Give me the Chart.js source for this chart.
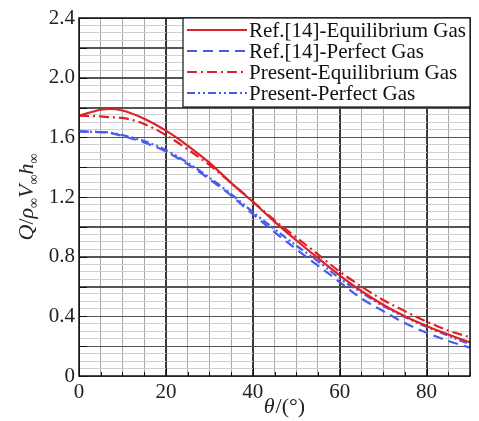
<!DOCTYPE html>
<html>
<head>
<meta charset="utf-8">
<script src="https://cdn.jsdelivr.net/npm/chart.js@4"></script>
<style>
  body { margin: 0; background: #fff; }
</style>
</head>
<body>
<canvas id="heat" width="479" height="421"></canvas>
<script>
// values
var theta = [0, 5, 7, 10, 15, 20, 25, 30, 35, 40, 45, 50, 55, 60, 65, 70, 75, 80, 85, 90];
var refEquilibrium = [1.745, 1.785, 1.79, 1.78, 1.725, 1.645, 1.545, 1.43, 1.295, 1.168, 1.035, 0.91, 0.79, 0.675, 0.57, 0.478, 0.40, 0.335, 0.278, 0.225];
var refPerfect = [1.64, 1.635, 1.63, 1.61, 1.565, 1.505, 1.42, 1.32, 1.21, 1.085, 0.965, 0.85, 0.74, 0.63, 0.52, 0.435, 0.355, 0.29, 0.235, 0.19];
var presentEquilibrium = [1.745, 1.74, 1.735, 1.73, 1.69, 1.615, 1.52, 1.415, 1.295, 1.17, 1.045, 0.93, 0.815, 0.70, 0.60, 0.51, 0.435, 0.365, 0.305, 0.26];
var presentPerfect = [1.64, 1.635, 1.632, 1.615, 1.575, 1.515, 1.43, 1.33, 1.22, 1.10, 0.985, 0.875, 0.77, 0.655, 0.56, 0.47, 0.395, 0.33, 0.27, 0.212];

var seriesNames = ["Ref.[14]-Equilibrium Gas", "Ref.[14]-Perfect Gas", "Present-Equilibrium Gas", "Present-Perfect Gas"];
var yTickLabels = ["0", "0.4", "0.8", "1.2", "1.6", "2.0", "2.4"];
var xTickLabels = ["0", "20", "40", "60", "80"];

var RED = "rgb(222,32,40)";
var BLUE = "rgb(72,92,235)";
var SERIF = "'Liberation Serif', 'Times New Roman', serif";

function pts(vals) {
    return theta.map((t, i) => ({ x: t, y: vals[i] }));
}

function isMult(v, step) {
    return Math.abs(v / step - Math.round(v / step)) < 1e-6;
}

// frame, inward ticks, axis titles and the boxed legend
var decorations = {
    id: "decorations",
    beforeDatasetsDraw: function (chart) {
        // put the major grid lines back on top of the minor ones
        var ctx = chart.ctx;
        var a = chart.chartArea;
        var xs = chart.scales.x, ys = chart.scales.y;
        ctx.save();
        ctx.lineWidth = 1;
        ctx.strokeStyle = "#555";
        for (var v = 0; v <= 2.4001; v += 0.2) {
            var py = Math.round(ys.getPixelForValue(v)) + 0.5;
            ctx.beginPath();
            ctx.moveTo(a.left, py);
            ctx.lineTo(a.right, py);
            ctx.stroke();
        }
        ctx.strokeStyle = "#3a3a3a";
        for (var t = 0; t <= 90; t += 20) {
            var px = Math.round(xs.getPixelForValue(t)) + 0.5;
            ctx.beginPath();
            ctx.moveTo(px, a.top);
            ctx.lineTo(px, a.bottom);
            ctx.stroke();
        }
        ctx.restore();
    },
    afterDraw: function (chart) {
        var ctx = chart.ctx;
        var a = chart.chartArea;
        var xs = chart.scales.x, ys = chart.scales.y;

        ctx.save();
        ctx.strokeStyle = "#111";
        ctx.lineWidth = 1;
        for (var v = 0; v <= 2.4001; v += 0.2) {
            var py = Math.round(ys.getPixelForValue(v)) + 0.5;
            ctx.beginPath();
            ctx.moveTo(a.left, py);
            ctx.lineTo(a.left + 8, py);
            ctx.stroke();
        }
        for (var t = 0; t <= 90; t += 5) {
            var px = Math.round(xs.getPixelForValue(t)) + 0.5;
            ctx.beginPath();
            ctx.moveTo(px, a.bottom);
            ctx.lineTo(px, a.bottom - (t % 20 === 0 ? 8 : 4));
            ctx.stroke();
        }
        ctx.lineWidth = 1.5;
        ctx.strokeRect(a.left, a.top, a.right - a.left, a.bottom - a.top);

        // legend box
        var lx = 183, ly = a.top, lw = a.right - lx, lh = 89;
        ctx.fillStyle = "#fff";
        ctx.fillRect(lx, ly, lw, lh);
        ctx.lineWidth = 1.2;
        ctx.strokeRect(lx, ly, lw, lh);
        ctx.font = "21px " + SERIF;
        ctx.textBaseline = "middle";
        chart.data.datasets.forEach(function (ds, i) {
            var yy = ly + 12 + i * 21;
            ctx.strokeStyle = ds.borderColor;
            ctx.lineWidth = ds.borderWidth;
            ctx.setLineDash(ds.borderDash || []);
            ctx.beginPath();
            ctx.moveTo(lx + 4, yy);
            ctx.lineTo(lx + 64, yy);
            ctx.stroke();
            ctx.setLineDash([]);
            ctx.fillStyle = "#111";
            ctx.fillText(ds.label, lx + 66, yy + 1);
        });

        // x title: θ/(°)
        ctx.fillStyle = "#222";
        ctx.textBaseline = "alphabetic";
        var italic = "italic 22px " + SERIF, upright = "22px " + SERIF;
        ctx.font = italic;
        var w1 = ctx.measureText("θ").width;
        ctx.font = upright;
        var w2 = ctx.measureText("/(°)").width;
        var x0 = 284 - (w1 + w2) / 2;
        ctx.font = italic;
        ctx.fillText("θ", x0, 413);
        ctx.font = upright;
        ctx.fillText("/(°)", x0 + w1 + 1, 413);

        // y title: Q/ρ∞V∞h∞
        var parts = [
            ["Q", italic, 0], ["/", upright, 0], ["ρ", italic, 0], ["∞", "14px " + SERIF, 5],
            ["V", italic, 0], ["∞", "14px " + SERIF, 5], ["h", italic, 0], ["∞", "14px " + SERIF, 5]
        ];
        var total = 0;
        parts.forEach(function (p) { ctx.font = p[1]; p.push(ctx.measureText(p[0]).width); total += p[3]; });
        ctx.translate(27, (a.top + a.bottom) / 2);
        ctx.rotate(-Math.PI / 2);
        var cx = -total / 2;
        parts.forEach(function (p) {
            ctx.font = p[1];
            ctx.fillText(p[0], cx, 6 + p[2]);
            cx += p[3];
        });
        ctx.restore();
    }
};

var heat = document.getElementById("heat").getContext("2d");
var heatChart = new Chart(heat, {
    type: "line",
    data: {
        datasets: [
            { label: seriesNames[0], data: pts(refEquilibrium), borderColor: RED, borderWidth: 2.2, borderDash: [] },
            { label: seriesNames[1], data: pts(refPerfect), borderColor: BLUE, borderWidth: 2.2, borderDash: [10, 6] },
            { label: seriesNames[2], data: pts(presentEquilibrium), borderColor: RED, borderWidth: 2.2, borderDash: [10, 4, 2, 4] },
            { label: seriesNames[3], data: pts(presentPerfect), borderColor: BLUE, borderWidth: 2.2, borderDash: [8, 3, 2, 3, 2, 3] }
        ]
    },
    options: {
        responsive: false,
        animation: false,
        layout: { padding: { top: 18, right: 9, left: 0, bottom: 0 } },
        elements: {
            point: { radius: 0 },
            line: { cubicInterpolationMode: "monotone", fill: false }
        },
        plugins: {
            legend: { display: false },
            tooltip: { enabled: false }
        },
        scales: {
            x: {
                type: "linear",
                min: 0,
                max: 90,
                border: { display: false },
                grid: {
                    drawTicks: false,
                    lineWidth: 1,
                    color: ctx => isMult(ctx.tick.value, 20) ? "#3a3a3a" : "#a8a8a8"
                },
                ticks: {
                    stepSize: 5,
                    autoSkip: false,
                    maxRotation: 0,
                    padding: 4,
                    color: "#222",
                    font: { family: SERIF, size: 21 },
                    callback: v => isMult(v, 20) ? xTickLabels[Math.round(v / 20)] : ""
                },
                afterFit: function (scale) { scale.height = 45; }
            },
            y: {
                min: 0,
                max: 2.4,
                border: { display: false },
                grid: {
                    drawTicks: false,
                    lineWidth: 1,
                    color: ctx => isMult(ctx.tick.value, 0.2) ? "#555" : "#cfcfcf"
                },
                ticks: {
                    stepSize: 0.05,
                    maxTicksLimit: 200,
                    autoSkip: false,
                    padding: 4,
                    color: "#222",
                    font: { family: SERIF, size: 21 },
                    callback: v => isMult(v, 0.4) ? yTickLabels[Math.round(v / 0.4)] : ""
                },
                afterFit: function (scale) { scale.width = 79; }
            }
        }
    },
    plugins: [decorations]
});
</script>
</body>
</html>
